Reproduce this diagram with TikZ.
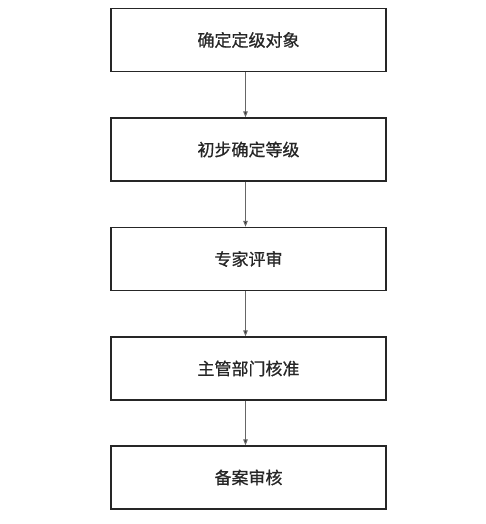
\documentclass[tikz,border=0pt]{standalone}
\usepackage{fontspec}
\newfontfamily\cjk[FakeBold=0.8]{Noto Sans CJK SC}
\usetikzlibrary{arrows.meta}
\begin{document}
\begin{tikzpicture}[x=1pt,y=-1pt,
  stepbox/.style={draw=black!85, line width=1.4pt, minimum width=275pt, minimum height=63pt, inner sep=0pt, font=\cjk\fontsize{17}{20}\selectfont, text=black!85},
  arr/.style={draw=black!60, line width=1pt, -{Triangle[length=6pt,width=4.5pt,fill=black!85]}}]
\useasboundingbox (0,0) rectangle (486,524);
\node[stepbox] (b1) at (248.5,40) {确定定级对象};
\node[stepbox] (b2) at (248.5,149.5) {初步确定等级};
\node[stepbox] (b3) at (248.5,259) {专家评审};
\node[stepbox] (b4) at (248.5,368.5) {主管部门核准};
\node[stepbox] (b5) at (248.5,477.5) {备案审核};
\foreach \a/\b in {b1/b2,b2/b3,b3/b4,b4/b5}
  \draw[arr] ([xshift=-3pt]\a.south) -- ([xshift=-3pt]\b.north);
\end{tikzpicture}
\end{document}
